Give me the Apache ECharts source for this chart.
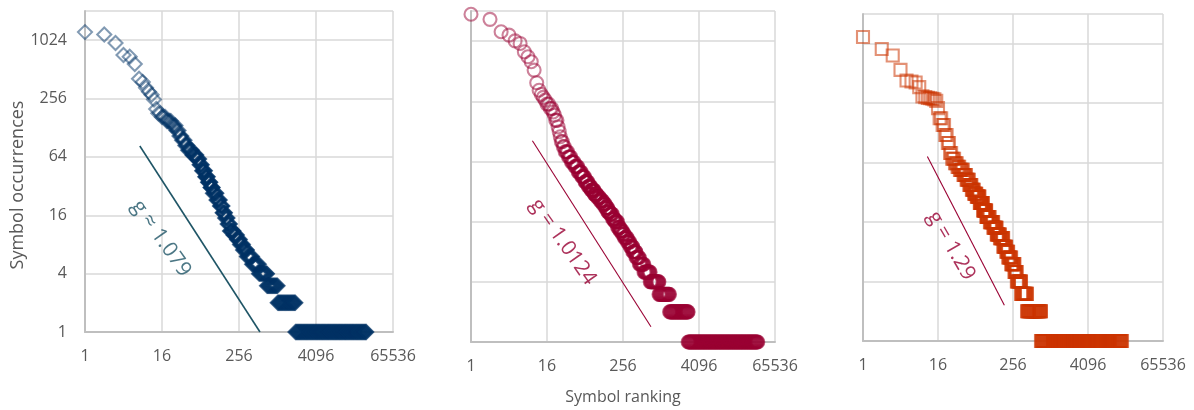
<!DOCTYPE html>
<html><head><meta charset="utf-8">
<script src="https://cdn.jsdelivr.net/npm/echarts@6/dist/echarts.min.js"></script>
<style>html,body{margin:0;padding:0;background:#fff}#c{width:1194px;height:410px}</style>
</head><body><div id="c"></div>
<script>
// ---- tick labels ----
const xTickLabels = ['1', '16', '256', '4096', '65536'];
const yTickLabels = ['1', '4', '16', '64', '256', '1024'];
const xTitle = 'Symbol ranking';
const yTitle = 'Symbol occurrences';

// ---- panel 1 (diamonds): first rank at which each occurrence count starts ----
const p1Rank  = [1,2,3,4,5,6,7,8,9,10,11,12,13,14,16,19,23,27,30,33,37,41,48,56,62,68,76,84,92,100,114,129,142,155,170,185,210,238,265,296,340,410,525,700,1030,1950];
const p1Count = [1240,1170,960,720,690,580,410,380,330,300,280,250,200,180,165,150,135,120,105,95,84,75,67,61,53,46,40,35,31,27,23,20,17,15,13,11,10,9,8,7,6,5,4,3,2,1];
const p1LastRank = 25000;

// ---- panel 2 (circles) ----
const p2Rank  = [1,2,3,4,5,6,7,8,9,10,11,12,13,14,15,16,18,20,21,22,24,25,26,27,29,31,35,39,44,50,57,64,72,80,90,100,110,122,135,147,159,175,190,210,229,250,270,300,330,365,410,465,550,690,950,1400,2750];
const p2Count = [1900,1690,1270,1175,1030,970,800,714,637,525,392,330,300,280,263,240,217,200,186,165,142,127,113,101,90,80,71,63,57,50,45,40,36,33,30,28,26,24,22,20,19,17,16,14,13,12,11,10,9,8,7,6,5,4,3,2,1];
const p2LastRank = 35000;

// ---- panel 3 (squares) ----
const p3Rank  = [1,2,3,4,5,6,7,8,9,10,11,12,13,14,15,16,17,19,21,23,25,27,30,33,36,41,46,51,56,61,67,75,85,96,109,124,140,158,179,200,215,240,270,295,345,430,720];
const p3Count = [1200,905,777,557,435,425,415,372,300,295,290,287,284,280,270,228,180,154,122,101,80,70,63,58,54,48,43,38,34,31,29,25,21,18,16,14,12,11,9,8,7,6,5,4,3,2,1];
const p3LastRank = 14400;

// ---- fitted-slope guide lines [rank, count] and their labels ----
const fitLabels = ['g \u2248 1.079', 'g = 1.0124', 'g = 1.29'];
const fitLine1 = [[7.2, 83], [545, 1]];
const fitLine2 = [[9.4, 103], [710, 1.42]];
const fitLine3 = [[10.8, 74], [186, 2.3]];
const fitLabelAt1 = [15.5, 9.2];
const fitLabelAt2 = [28.7, 10];
const fitLabelAt3 = [25.9, 9.2];

// expand "count c held by ranks first..last" into plotted points (log2 space)
function expand(ranks, counts, lastRank) {
  const pts = [];
  for (let i = 0; i < ranks.length; i++) {
    const start = ranks[i];
    const end = i + 1 < ranks.length ? ranks[i + 1] - 1 : lastRank;
    const cy = Math.log2(counts[i]);
    let r = start, lastPushed = -1;
    while (r <= end) {
      pts.push([Math.log2(r), cy]); lastPushed = r;
      const nr = Math.floor(r * 1.02);
      r = nr > r ? nr : r + 1;
    }
    if (lastPushed < end) pts.push([Math.log2(end), cy]);
  }
  return pts;
}
const toLog = p => [Math.log2(p[0]), Math.log2(p[1])];

const FONT = 'Open Sans';
const TXT = '#595959';
const grids = [
  {left: 85, top: 11, width: 308, height: 321},
  {left: 471, top: 11, width: 304, height: 331},
  {left: 863, top: 14, width: 300, height: 327}
];
const xAxes = grids.map((g, i) => ({
  type: 'value', gridIndex: i, min: 0, max: 16, interval: 4,
  axisLine: {show: true, onZero: false, lineStyle: {color: '#bfbfbf', width: 2}},
  axisTick: {show: false},
  splitLine: {show: true, lineStyle: {color: '#d9d9d9', width: 1.5}},
  axisLabel: {margin: 16, color: TXT, fontSize: 16, fontFamily: FONT,
    formatter: v => xTickLabels[Math.round(v / 4)] || ''}
}));
const yAxes = grids.map((g, i) => ({
  type: 'value', gridIndex: i, min: 0, max: 11, interval: 2,
  axisLine: {show: true, onZero: false, lineStyle: {color: '#bfbfbf', width: 2}},
  axisTick: {show: false},
  splitLine: {show: true, lineStyle: {color: '#d9d9d9', width: 1.5}},
  axisLabel: {show: i === 0, margin: 18, color: TXT, fontSize: 16, fontFamily: FONT,
    formatter: v => (v % 2 === 0 ? (yTickLabels[v / 2] || '') : '')}
}));

function marks(i, data, symbol, size, stroke) {
  return {type: 'scatter', xAxisIndex: i, yAxisIndex: i, data: data, symbol: symbol,
    symbolSize: size, silent: true, progressive: 0, clip: false,
    itemStyle: {color: 'rgba(0,0,0,0)', borderColor: stroke, borderWidth: 2.1}};
}
function fitLine(i, pts, color, width) {
  return {type: 'line', xAxisIndex: i, yAxisIndex: i, data: pts.map(toLog), symbol: 'none',
    silent: true, lineStyle: {color: color, width: width}, z: 1};
}
function fitLabel(i, at, text, color, rot) {
  return {type: 'scatter', xAxisIndex: i, yAxisIndex: i, data: [toLog(at)], symbolSize: 1,
    silent: true, itemStyle: {color: 'rgba(0,0,0,0)'},
    label: {show: true, position: 'inside', formatter: text, rotate: rot, color: color,
      fontSize: 21, fontFamily: FONT}};
}

const chart = echarts.init(document.getElementById('c'));
chart.setOption({
  animation: false,
  backgroundColor: '#ffffff',
  grid: grids,
  xAxis: xAxes,
  yAxis: yAxes,
  series: [
    fitLine(0, fitLine1, '#1f5566', 1.6),
    fitLine(1, fitLine2, '#990033', 1.1),
    fitLine(2, fitLine3, '#990033', 1.1),
    marks(0, expand(p1Rank, p1Count, p1LastRank), 'diamond', 14, 'rgba(0,51,102,0.62)'),
    marks(1, expand(p2Rank, p2Count, p2LastRank), 'circle', 13, 'rgba(153,0,51,0.62)'),
    marks(2, expand(p3Rank, p3Count, p3LastRank), 'rect', 12, 'rgba(204,51,0,0.68)'),
    fitLabel(0, fitLabelAt1, fitLabels[0], '#1f5566', -55),
    fitLabel(1, fitLabelAt2, fitLabels[1], '#990033', -55),
    fitLabel(2, fitLabelAt3, fitLabels[2], '#990033', -60)
  ],
  graphic: [
    {type: 'text', x: 18, y: 185, rotation: Math.PI / 2,
      style: {text: yTitle, fill: TXT, font: '18px "Open Sans"', align: 'center', verticalAlign: 'middle'}},
    {type: 'text', x: 623, y: 397,
      style: {text: xTitle, fill: TXT, font: '16px "Open Sans"', align: 'center', verticalAlign: 'middle'}}
  ]
});
</script>
</body></html>
